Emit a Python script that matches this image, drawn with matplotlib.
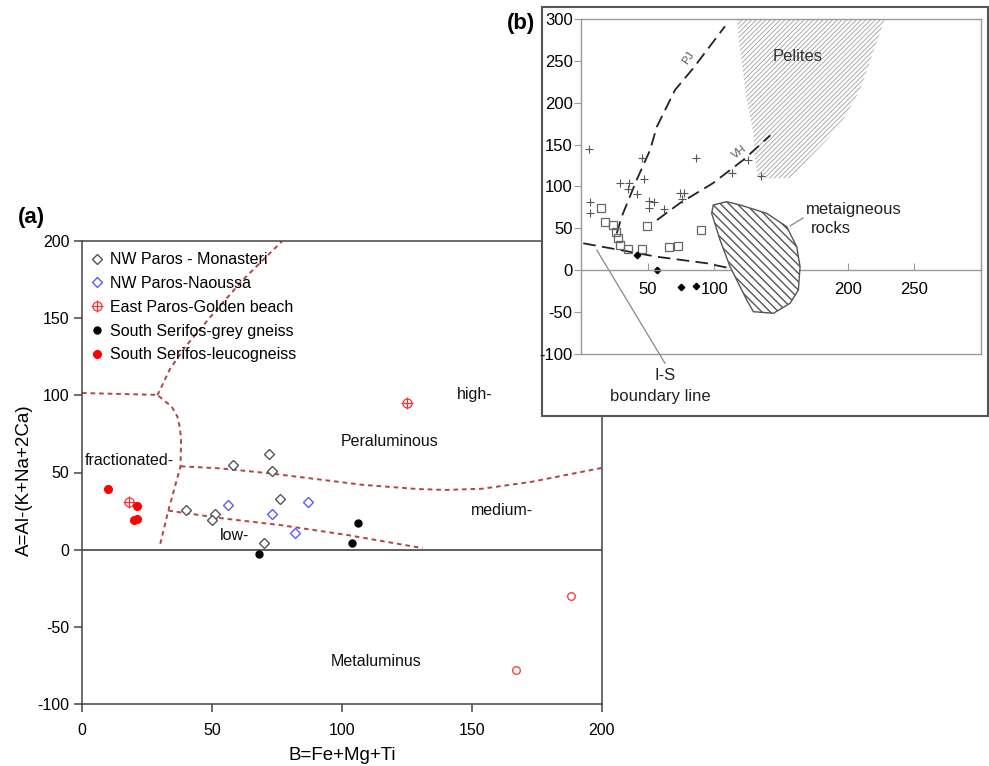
import matplotlib
matplotlib.use("Agg")
import matplotlib.pyplot as plt
from matplotlib.patches import Polygon, Rectangle

plt.rcParams['font.family'] = ['Liberation Sans', 'DejaVu Sans']
plt.rcParams['axes.unicode_minus'] = False
plt.rcParams['hatch.linewidth'] = 0.7

# ---- panel (a) samples ----
monasteri_x = [72, 58, 73, 76, 40, 51, 50, 70]
monasteri_y = [62, 55, 51, 33, 26, 23, 19, 4]
naoussa_x = [56, 73, 87, 82]
naoussa_y = [29, 23, 31, 11]
golden_x = [18, 125]
golden_y = [31, 95]
grey_gneiss_x = [106, 104, 68]
grey_gneiss_y = [17, 4, -3]
leuco_x = [10, 21, 20, 21]
leuco_y = [39, 28, 19, 20]
extra_x = [188, 167]
extra_y = [-30, -78]

# field boundaries (a)
frac_x = [0, 29, 31.3, 34.5, 36.7, 37.7, 38.1, 37.9, 33.2, 30]
frac_y = [101.5, 100.3, 97, 92.7, 86.2, 78.7, 71.1, 54, 25.3, 3]
high_x = [29, 33.8, 40, 50, 62, 77]
high_y = [100, 117, 132, 152, 175, 200]
mid_x = [38, 53, 72, 84, 108, 129, 140, 154, 173, 200]
mid_y = [54, 52.7, 49.5, 47, 42, 39.3, 38.7, 39.5, 44, 53]
low_x = [33.2, 54, 76, 102, 131]
low_y = [25.3, 20.3, 16, 9.5, 1]

# ---- panel (b) reference diagram ----
cross_x = [6, 46, 86, 125, 47.5, 29.4, 35.7, 35, 41.7, 7, 7, 51, 55, 51, 62.5, 74, 77, 76, 113, 135]
cross_y = [145, 134, 134, 131, 109, 104, 104, 97, 91, 82, 69, 83, 82, 74, 73.5, 92.5, 92.5, 85, 116, 113]
square_x = [15, 18, 24, 26, 28, 29.4, 35, 46, 49.5, 66, 73, 90]
square_y = [74, 58, 54, 46, 38.5, 30, 25, 26, 53, 28, 29, 48]
diam_x = [42, 57, 75, 86]
diam_y = [18, 0, -20, -19]

pj_x = [26.8, 30.5, 41.8, 51.7, 56.8, 70.5, 84.2, 108]
pj_y = [44, 64, 108, 143, 171, 215, 241, 291]
vh_x = [57, 74, 99, 122, 142]
vh_y = [60, 80, 104, 132, 161]
is_x = [1.7, 56.8, 94.3, 111.8]
is_y = [32.3, 16.3, 8.5, 2.5]

pelites_x = [116.8, 119.3, 124.3, 129.3, 130.5, 133, 158, 164.3, 184.3, 197.3, 209.3, 219.8, 228]
pelites_y = [300, 262.8, 203, 163.4, 131.6, 109.8, 109.8, 122, 155.4, 181.4, 215, 262.6, 300]
meta_x = [99.2, 109.3, 119.3, 139.3, 154.3, 161.8, 164.3, 163, 156.8, 144.3, 129.3, 124.3, 111.8, 104.3, 98]
meta_y = [78, 81.9, 78, 68, 52.1, 28.2, 4.4, -23.4, -39.2, -51.1, -49.2, -35.3, 4.4, 36.2, 68]

W, H = 989, 766
fig = plt.figure(figsize=(W / 100, H / 100), dpi=100)


def box(x0, y0, x1, y1):
    return [x0 / W, 1 - y1 / H, (x1 - x0) / W, (y1 - y0) / H]


# ================= panel (a) =================
ax = fig.add_axes(box(82, 241, 602, 704))
ax.set_zorder(1)
ax.set_xlim(0, 200)
ax.set_ylim(-100, 200)
for s in ax.spines.values():
    s.set_color('#444')
    s.set_linewidth(1.1)
ax.tick_params(direction='out', length=6, width=1.1, color='#444', labelsize=11.5)
ax.tick_params(axis='x', pad=7.5)
ax.tick_params(axis='y', pad=3)
ax.set_xticks([0, 50, 100, 150, 200])
ax.set_yticks([-100, -50, 0, 50, 100, 150, 200])
ax.axhline(0, color='#333', lw=1.1)

bc = '#b04545'
dash = (0, (2.4, 2.0))
for bx, by in [(frac_x, frac_y), (high_x, high_y), (mid_x, mid_y), (low_x, low_y)]:
    ax.plot(bx, by, color=bc, lw=1.4, ls=dash)

h1, = ax.plot(monasteri_x, monasteri_y, 'D', ms=5.3, mfc='white', mec='#555', mew=1.0)
h2, = ax.plot(naoussa_x, naoussa_y, 'D', ms=5.3, mfc='white', mec='#5a5aff', mew=1.0)
h3a, = ax.plot(golden_x, golden_y, 'o', ms=6.5, mfc='none', mec='#ff3030', mew=0.9)
h3b, = ax.plot(golden_x, golden_y, '+', ms=8.5, mec='#ff3030', mew=0.9)
h4, = ax.plot(grey_gneiss_x, grey_gneiss_y, 'o', ms=5, color='black')
h5, = ax.plot(leuco_x, leuco_y, 'o', ms=5.5, color='#ff0000')
ax.plot(extra_x, extra_y, 'o', ms=5.5, mfc='none', mec='#ff4040', mew=1.0)

ax.legend([h1, h2, (h3a, h3b), h4, h5],
          ['NW Paros - Monasteri', 'NW Paros-Naoussa', 'East Paros-Golden beach',
           'South Serifos-grey gneiss', 'South Serifos-leucogneiss'],
          loc='upper left', frameon=False, fontsize=11.5, handlelength=0.8,
          handletextpad=0.4, labelspacing=0.55, borderaxespad=0.3,
          bbox_to_anchor=(-0.005, 1.0))

tk = dict(fontsize=11.5, color='#111', va='center')
ax.text(1.2, 57.5, 'fractionated-', **tk)
ax.text(53, 9.5, 'low-', **tk)
ax.text(99.6, 70, 'Peraluminous', **tk)
ax.text(144, 100.3, 'high-', **tk)
ax.text(149.5, 25.7, 'medium-', **tk)
ax.text(95.5, -72.6, 'Metaluminus', **tk)

ax.set_xlabel('B=Fe+Mg+Ti', fontsize=13.5, labelpad=7)
ax.set_ylabel('A=Al-(K+Na+2Ca)', fontsize=13.5)
ax.yaxis.set_label_coords(-0.094, 0.484)

fig.text(31 / W, 1 - 217 / H, '(a)', fontsize=16, fontweight='bold', ha='center', va='center')

# ================= panel (b) =================
frame = Rectangle((542 / W, 1 - 416 / H), (988 - 542) / W, (416 - 7) / H,
                  transform=fig.transFigure, facecolor='white', edgecolor='#555',
                  lw=1.5, zorder=2)
fig.add_artist(frame)
fig.text(521 / W, 1 - 23 / H, '(b)', fontsize=16, fontweight='bold', ha='center', va='center')

bx_ = fig.add_axes(box(581, 18.7, 981, 354.3))
bx_.set_zorder(3)
bx_.set_xlim(0, 300)
bx_.set_ylim(-100, 300)
for s in bx_.spines.values():
    s.set_color('#999')
    s.set_linewidth(1.0)
bx_.spines['bottom'].set_position(('data', 0))
bx_.axhline(-100, color='#999', lw=1.0, clip_on=False)
bx_.set_xticks([50, 100, 150, 200, 250])
bx_.set_yticks([-100, -50, 0, 50, 100, 150, 200, 250, 300])
bx_.tick_params(axis='x', direction='in', length=5, color='#999', labelsize=12, pad=8.5)
bx_.tick_params(axis='y', direction='out', length=5, color='#999', labelsize=12, pad=1)

with plt.rc_context({'hatch.linewidth': 0.6}):
    bx_.add_patch(Polygon(list(zip(pelites_x, pelites_y)), closed=True, facecolor='none',
                          edgecolor='#a0a0a0', lw=0, hatch='///////', zorder=1))
with plt.rc_context({'hatch.linewidth': 1.0}):
    bx_.add_patch(Polygon(list(zip(meta_x, meta_y)), closed=True, facecolor='white',
                          edgecolor='#555', lw=1.0, hatch='\\\\\\\\', zorder=3))

ldash = (0, (7, 3.5))
bx_.plot(pj_x, pj_y, color='#222', lw=1.3, ls=ldash)
bx_.plot(vh_x, vh_y, color='#222', lw=1.3, ls=ldash)
bx_.plot(is_x, is_y, color='#222', lw=1.3, ls=ldash)

bx_.plot(cross_x, cross_y, '+', ms=6, mec='#555', mew=0.8)
bx_.plot(square_x, square_y, 's', ms=6, mfc='none', mec='#666', mew=0.9)
bx_.plot(diam_x, diam_y, 'D', ms=3.3, color='black')

bx_.text(162.8, 255.5, 'Pelites', fontsize=12, color='#333', ha='center', va='center', zorder=4)
bx_.text(80.5, 252.8, 'PJ', fontsize=8, color='#555', rotation=56, ha='center', va='center')
bx_.text(118.7, 141.5, 'VH', fontsize=8, color='#555', rotation=37, ha='center', va='center')
bx_.text(168.8, 72.6, 'metaigneous', fontsize=12, color='#222', va='center')
bx_.text(172.5, 50, 'rocks', fontsize=12, color='#222', va='center')
bx_.plot([156.8, 166.5], [53, 62.5], color='#888', lw=0.9)
bx_.plot([11.8, 63], [24.3, -110.7], color='#888', lw=0.9, clip_on=False)
bx_.text(63, -125.8, 'I-S', fontsize=12, color='#222', ha='center', va='center')
bx_.text(59.3, -150.8, 'boundary line', fontsize=12, color='#222', ha='center', va='center')

fig.savefig('out.png', dpi=100)
